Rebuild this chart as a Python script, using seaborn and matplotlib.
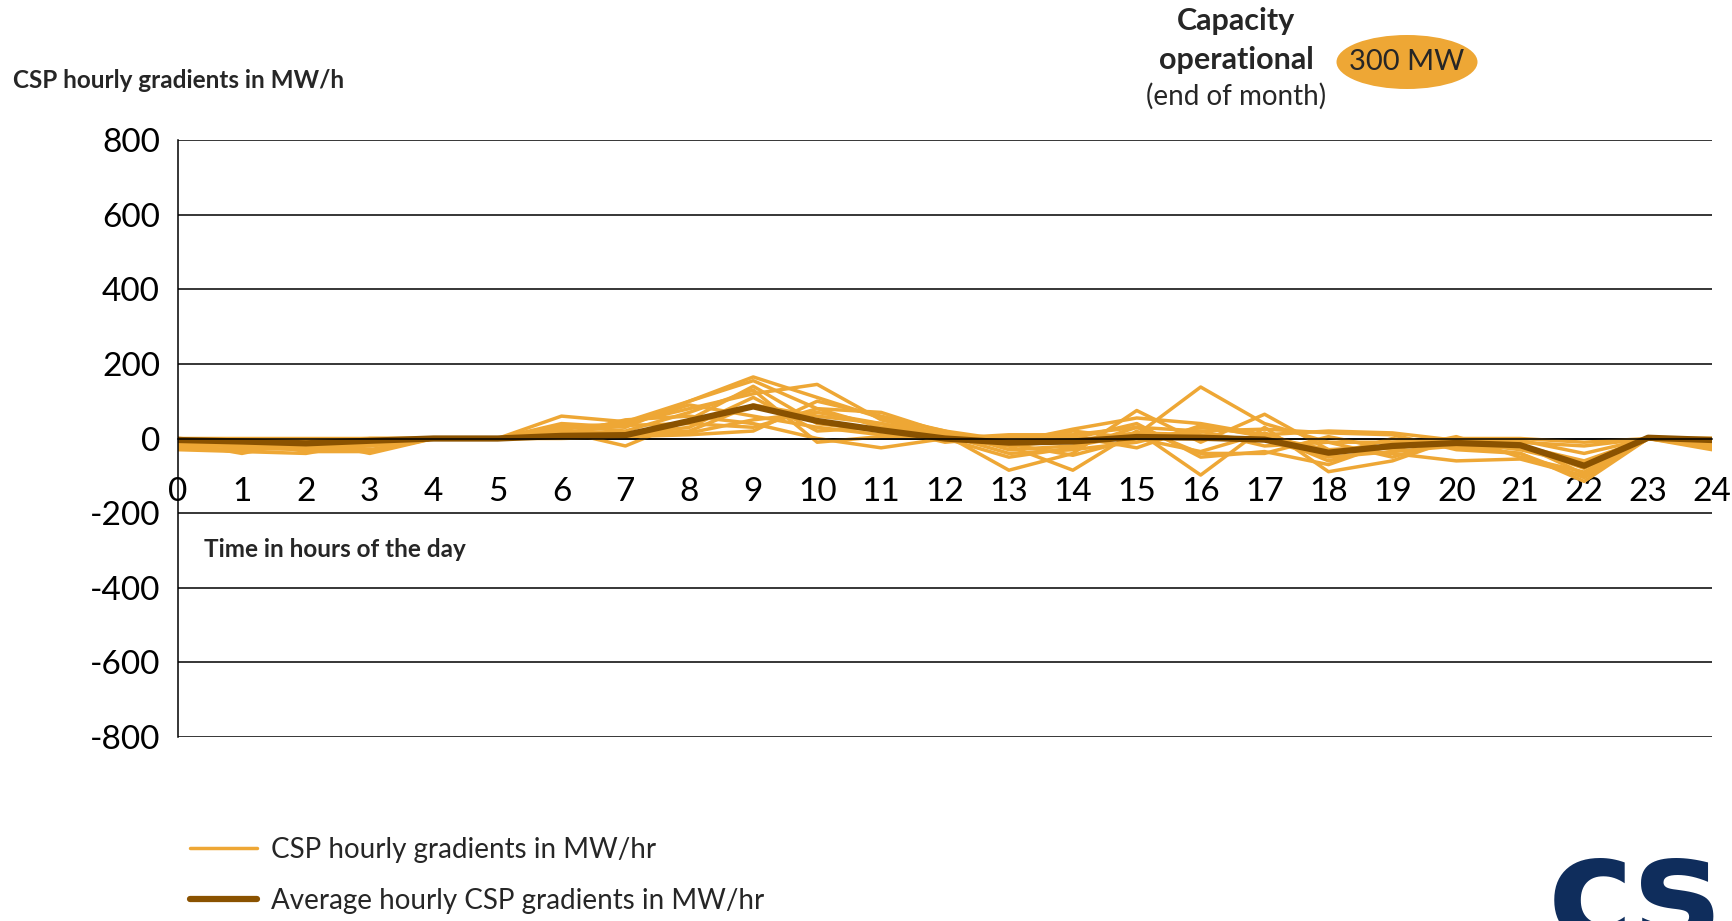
import numpy as np
import pandas as pd
import matplotlib
matplotlib.use("Agg")
import matplotlib.pyplot as plt
from matplotlib.lines import Line2D
from matplotlib.patches import Ellipse
import seaborn as sns

hours = list(range(0, 25))
x_tick_labels = [str(h) for h in hours]
y_ticks = [-800, -600, -400, -200, 0, 200, 400, 600, 800]

# individual daily CSP hourly gradients (MW/h), hours 0..24
day01 = [-30, -35, -40, -10, 0, 0, 60, 45, 100, 165, 110, 55, 20, -30, -20, 10, 138, 40, -10, -10, -20, -40, -115, 0, -10]
day02 = [-10, -40, -5, -40, 0, 0, 30, 40, 80, 120, 145, 50, 10, -85, -40, 75, -10, 65, -30, -40, -60, -55, -100, 0, -30]
day03 = [0, -10, -20, 0, 0, 0, 20, -20, 50, 140, 40, 20, 0, -20, -85, 20, -98, 30, -89, -60, 0, -20, -60, 0, 0]
day04 = [-20, -5, -35, -35, 0, 0, 40, 30, 100, 155, 80, 70, 15, -10, 25, 55, 40, 10, 20, 15, -5, -10, -20, 0, -20]
day05 = [-5, -20, -10, -20, 0, 0, 10, 50, 60, 40, 0, -25, 0, 10, 10, 30, -40, -40, 5, -30, 5, -50, -90, 0, 0]
day06 = [0, 0, 0, 0, 0, 0, 5, 10, 20, 90, 60, 40, 10, -40, -30, -10, 30, 10, -60, -20, -10, -30, -70, 0, -5]
day07 = [-25, -30, -25, -15, 0, 0, 35, 20, 70, 130, -10, 5, 5, 0, 0, 40, -50, -35, -70, -10, 0, 0, -10, 0, -25]
day08 = [0, -10, -5, 0, 0, 0, 0, 5, 10, 20, 100, 60, 20, -5, 20, 0, 20, 25, 15, 10, -30, -40, -105, 0, 0]
day09 = [-10, -25, -30, -30, 0, 0, 25, 40, 90, 60, 30, 10, 0, -50, -25, 30, 20, -20, -10, -50, 0, -5, -40, 0, -10]
day10 = [-15, -15, -20, -10, 0, 0, 15, 35, 40, 30, 80, 30, -10, 5, 5, -25, 35, 5, -30, -20, -15, -20, -80, 0, -15]
day11 = [-5, -5, -15, -5, 0, 0, 5, 10, 30, 110, 20, 30, 15, -20, -5, 15, 10, -5, -50, -35, -20, -25, -65, 0, -5]
day12 = [-20, -20, -30, -20, 0, 0, 20, 15, 15, 50, 70, 40, 5, -15, -45, 0, -35, 15, -45, 0, -25, -15, -95, 0, -20]
days = [day01, day02, day03, day04, day05, day06, day07, day08, day09, day10, day11, day12]

# average hourly CSP gradients (MW/h)
average = [-4, -8, -13, -6, 0, 0, 7, 9, 47, 86, 47, 22, 0, -11, -8, 4, 2, -3, -38, -20, -12, -18, -73, 2, -4]

orange = "#EEA735"
brown = "#8A5200"

sns.set_theme(style="white")
plt.rcParams["font.family"] = ["Lato", "DejaVu Sans"]

W, H = 17.32, 9.21
fig = plt.figure(figsize=(W, H), dpi=100)
ax = fig.add_axes([178 / 1732, 1 - 737 / 921, (1712 - 178) / 1732, 597 / 921])

rows = []
for i, d in enumerate(days):
    for h, v in zip(hours, d):
        rows.append({"day": i, "hour": h, "value": v})
df = pd.DataFrame(rows)
sns.lineplot(data=df, x="hour", y="value", units="day", estimator=None,
             color=orange, lw=2.5, ax=ax, legend=False)
avg_df = pd.DataFrame({"hour": hours, "value": average})
sns.lineplot(data=avg_df, x="hour", y="value", color=brown, lw=4.5, ax=ax, legend=False)

ax.spines["top"].set_visible(False)
ax.spines["right"].set_visible(False)
ax.spines["bottom"].set_position(("data", 0))
ax.spines["bottom"].set_color("black")
ax.spines["left"].set_color("black")
ax.spines["bottom"].set_linewidth(1.1)
ax.spines["left"].set_linewidth(1.1)

ax.set_xlim(0, 24)
ax.set_ylim(-800, 800)
ax.set_yticks(y_ticks)
ax.set_yticklabels([str(v) for v in y_ticks])
ax.set_xticks(hours)
ax.set_xticklabels(x_tick_labels)
ax.set_xlabel("")
ax.set_ylabel("")
for v in y_ticks:
    ax.axhline(v, color="black", lw=1.1, zorder=0)
ax.tick_params(axis="x", direction="out", length=9, width=1.1, color="black",
               pad=19, labelsize=24, labelcolor="black")
ax.tick_params(axis="y", direction="out", length=9, width=1.1, color="black",
               pad=4, labelsize=24, labelcolor="black")
ax.set_facecolor("white")

def fx(px):
    return px / 1732

def fy(py):
    return 1 - py / 921

fig.text(fx(13), fy(80), "CSP hourly gradients in MW/h", fontsize=17.5, fontweight="bold", va="center", ha="left")
fig.text(fx(204), fy(549), "Time in hours of the day", fontsize=17.5, fontweight="bold", va="center", ha="left")

fig.text(fx(1236), fy(21), "Capacity", fontsize=22, fontweight="bold", ha="center", va="center")
fig.text(fx(1236), fy(60), "operational", fontsize=22, fontweight="bold", ha="center", va="center")
fig.text(fx(1236), fy(96), "(end of month)", fontsize=20, ha="center", va="center")
ell = Ellipse((fx(1407), fy(62)), 141 / 1732, 54 / 921, transform=fig.transFigure,
              facecolor=orange, edgecolor="none")
fig.add_artist(ell)
fig.text(fx(1407), fy(62), "300 MW", fontsize=21, ha="center", va="center")

handles = [Line2D([], [], color=orange, lw=2.5), Line2D([], [], color=brown, lw=4.5)]
labels = ["CSP hourly gradients in MW/hr", "Average hourly CSP gradients in MW/hr"]
fig.legend(handles, labels, loc="center left", bbox_to_anchor=(fx(165), fy(875)),
           frameon=False, fontsize=20, handlelength=2.4, handletextpad=0.5, labelspacing=0.9)

fig.text(fx(1548), fy(940), "csi", fontsize=105, fontweight="bold", color="#0F2D5C",
         ha="left", va="baseline", family=["DejaVu Sans"])

fig.savefig("out.png", dpi=100, facecolor="white")
